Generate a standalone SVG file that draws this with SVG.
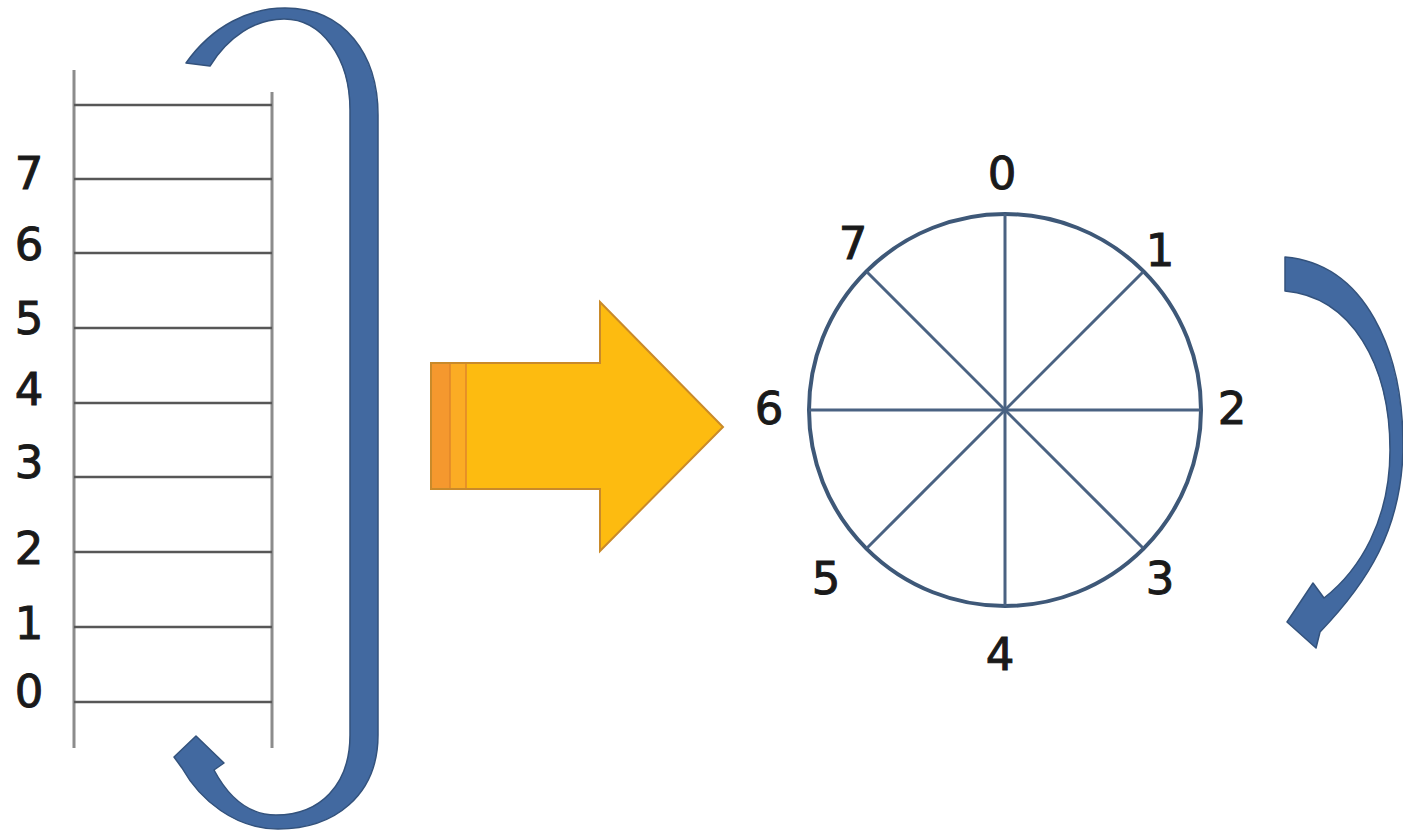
<svg xmlns="http://www.w3.org/2000/svg" width="1403" height="832" viewBox="0 0 1403 832">
  <style>
    .lbl { font-family: "DejaVu Sans", "Liberation Sans", sans-serif; font-size: 45px; fill: #1a1a1a; stroke: #1a1a1a; stroke-width: 1; text-anchor: middle; }
    .rail { stroke: #8c8c8c; stroke-width: 3; fill: none; }
    .rung { stroke: #575757; stroke-width: 2.5; fill: none; }
    .ring { stroke: #3e5878; stroke-width: 4; fill: none; }
    .spoke { stroke: #4a6282; stroke-width: 3; fill: none; }
    .blue { fill: #4269a0; stroke: #33527c; stroke-width: 1.5; stroke-linejoin: round; }
  </style>
  <rect width="1403" height="832" fill="#ffffff"/>

  <g id="ladder">
    <line class="rail" x1="74" y1="70" x2="74" y2="748"/>
    <line class="rail" x1="272" y1="92" x2="272" y2="748"/>
    <line class="rung" x1="74" y1="105" x2="272" y2="105"/>
    <line class="rung" x1="74" y1="179" x2="272" y2="179"/>
    <line class="rung" x1="74" y1="253" x2="272" y2="253"/>
    <line class="rung" x1="74" y1="328" x2="272" y2="328"/>
    <line class="rung" x1="74" y1="403" x2="272" y2="403"/>
    <line class="rung" x1="74" y1="477" x2="272" y2="477"/>
    <line class="rung" x1="74" y1="552" x2="272" y2="552"/>
    <line class="rung" x1="74" y1="627" x2="272" y2="627"/>
    <line class="rung" x1="74" y1="702" x2="272" y2="702"/>
  </g>

  <g id="ladder-labels">
    <text class="lbl" x="29" y="189">7</text>
    <text class="lbl" x="29" y="260">6</text>
    <text class="lbl" x="29" y="334">5</text>
    <text class="lbl" x="29" y="405">4</text>
    <text class="lbl" x="29" y="478">3</text>
    <text class="lbl" x="29" y="564">2</text>
    <text class="lbl" x="29" y="639">1</text>
    <text class="lbl" x="29" y="707">0</text>
  </g>

  <g id="ring">
    <circle class="ring" cx="1005" cy="410" r="196"/>
    <line class="spoke" x1="1005" y1="214" x2="1005" y2="606"/>
    <line class="spoke" x1="809" y1="410" x2="1201" y2="410"/>
    <line class="spoke" x1="867" y1="272" x2="1143" y2="548"/>
    <line class="spoke" x1="1143" y1="272" x2="867" y2="548"/>
  </g>

  <g id="ring-labels">
    <text class="lbl" x="1002" y="189">0</text>
    <text class="lbl" x="1160" y="266">1</text>
    <text class="lbl" x="1232" y="424">2</text>
    <text class="lbl" x="1160" y="594">3</text>
    <text class="lbl" x="1000" y="670">4</text>
    <text class="lbl" x="826" y="594">5</text>
    <text class="lbl" x="769" y="424">6</text>
    <text class="lbl" x="853" y="259">7</text>
  </g>

  <g id="connectors">
    <g id="wrap-arrow">
      <path class="blue" d="M 186 63 C 213 25, 250 8, 285 8 C 345 8, 378 55, 378 115 L 378 735 C 378 795, 335 829, 278 829 C 235 829, 200 800, 182 768 L 174 757 L 196 736 L 224 763 L 214 770 C 230 800, 250 815, 276 815 C 320 815, 350 785, 350 735 L 350 110 C 350 58, 322 19, 284 19 C 255 19, 228 37, 210 66 Z"/>
    </g>
    <g id="map-arrow">
      <path d="M 431 363 L 600 363 L 600 302 L 723 427 L 600 551 L 600 489 L 431 489 Z" fill="#fdbb10" stroke="#c98a2a" stroke-width="2" stroke-linejoin="miter"/>
      <rect x="432" y="364" width="18" height="124" fill="#f5982e"/>
      <rect x="450" y="364" width="16" height="124" fill="#fbac24"/>
      <line x1="450" y1="364" x2="450" y2="488" stroke="#e0862a" stroke-width="1.5"/>
      <line x1="466" y1="364" x2="466" y2="488" stroke="#e0862a" stroke-width="1.5"/>
    </g>
    <g id="rotate-arrow">
      <path class="blue" d="M 1285 257 C 1365 264, 1404 350, 1403 450 C 1401 530, 1368 582, 1320 632 L 1316 648 L 1287 622 L 1313 583 L 1324 598 C 1360 570, 1390 520, 1390 450 C 1390 365, 1352 297, 1285 291 Z"/>
    </g>
  </g>
</svg>
